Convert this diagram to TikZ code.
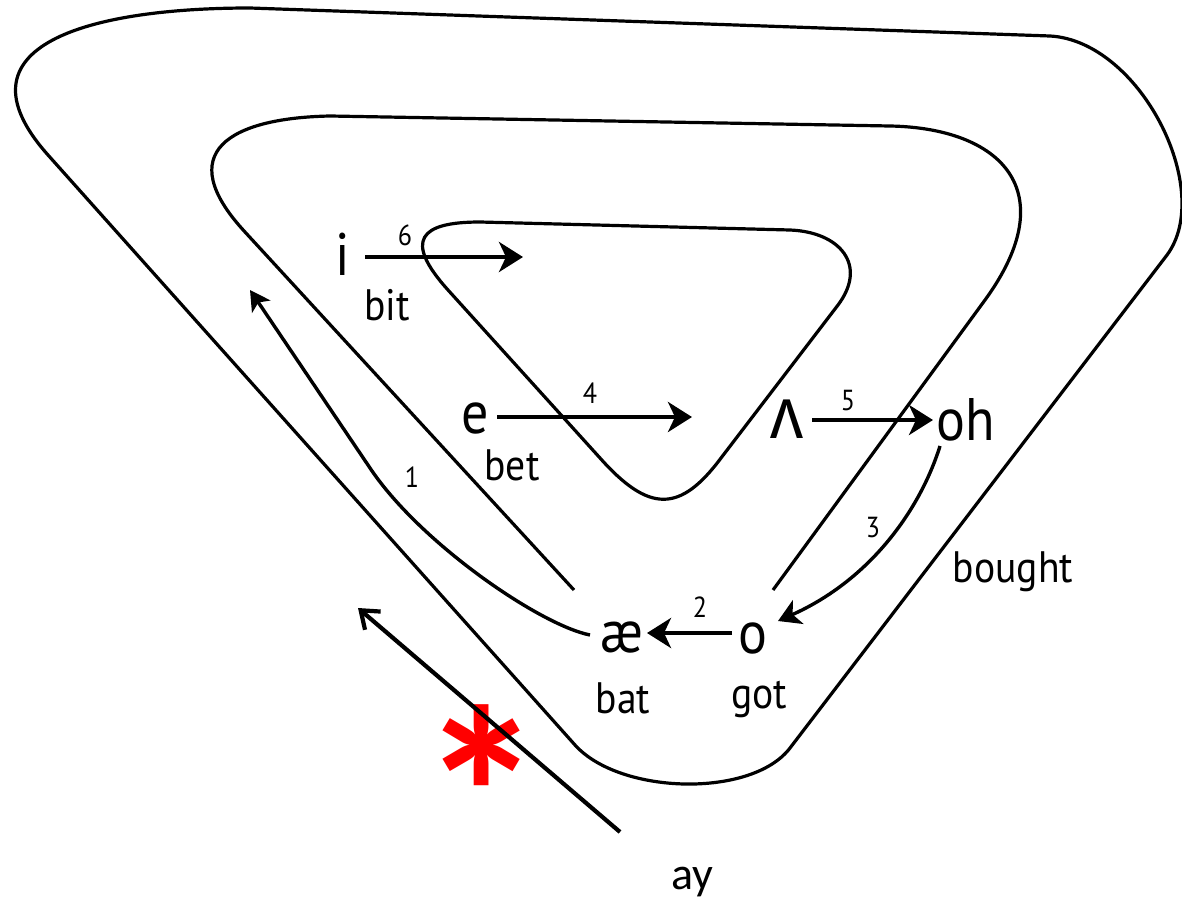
\documentclass[tikz,border=0pt]{standalone}
\usepackage{fontspec}
\setmainfont{PT Sans}[FakeStretch=0.9]
\newfontfamily\ipafont{Noto Sans}[FakeStretch=0.9]
\newfontfamily\calfont{Carlito}
\usetikzlibrary{arrows.meta}
\begin{document}
\begin{tikzpicture}[x=1pt,y=-1pt,
  loopline/.style={line width=3.2pt, line join=round},
  arrbig/.style={line width=4pt,-{Stealth[length=24pt,width=30pt,inset=7pt]}},
  arrcurve/.style={line width=3.4pt,-{Stealth[length=22pt,width=26pt,inset=6pt]}},
  arrone/.style={line width=3.4pt,-{Stealth[length=20pt,width=22pt,inset=5pt]}},
  arrway/.style={line width=4.2pt,-{Straight Barb[length=16pt,width=24pt]}},
  bigl/.style={font=\fontsize{60}{60}\selectfont, inner sep=0pt, anchor=base},
  word/.style={font=\fontsize{44}{44}\selectfont, inner sep=0pt, anchor=base},
  num/.style={font=\fontsize{29}{29}\selectfont, inner sep=0pt, anchor=base},
]
\path[use as bounding box] (0,0) rectangle (1182,899);
\clip (0,0) rectangle (1182,899);

% loops
\draw[loopline] (250,8) .. controls (90,8) and (-50,45) .. (48,155) -- (575,745)
  .. controls (620,795) and (752,798) .. (790,748) -- (1167,255)
  .. controls (1215,190) and (1140,41) .. (1050,36) -- cycle;
\draw[loopline] (574,590) -- (245,232) .. controls (171,152) and (230,118) .. (330,116)
  -- (890,126) .. controls (1000,128) and (1065,190) .. (985,300) -- (773,590);
\draw[loopline] (480,222) -- (790,230) .. controls (840,232) and (868,265) .. (838,305)
  -- (721,458) .. controls (680,513) and (649,513) .. (600,458)
  -- (448,290) .. controls (403,240) and (420,222) .. (480,222) -- cycle;

% labels
\node[bigl] (i) at (343,275) {i};
\node[word] (bit) at (387,320) {bit};
\node[bigl] (e) at (475,433) {e};
\node[word] (bet) at (512,480) {bet};
\node[bigl, font=\ipafont\fontsize{72}{72}\selectfont] (wedge) at (787,438) {ʌ};
\node[bigl] (oh) at (966,440) {oh};
\node[word] (bought) at (1013,582) {bought};
\node[bigl] (ae) at (622,652) {æ};
\node[word] (bat) at (623,713) {bat};
\node[bigl] (o) at (753,653) {o};
\node[word] (got) at (759,708) {got};
\node[num] (n6) at (405,245) {6};
\node[num] (n4) at (590,403) {4};
\node[num] (n5) at (848,410) {5};
\node[num] (n2) at (700,617) {2};
\node[num] (n3) at (873,537) {3};
\node[num] (n1) at (412,487) {1};
\node[font=\calfont\fontsize{46}{46}\selectfont, inner sep=0pt, anchor=base] (ay) at (692,889) {ay};
\node[text=red, font=\calfont\bfseries\fontsize{250}{250}\selectfont, inner sep=0pt, anchor=base] (ast) at (482,883) {*};

% arrow end points
\coordinate (a6s) at (365,257); \coordinate (a6e) at (523,257);
\coordinate (a4s) at (497,417); \coordinate (a4e) at (692,417);
\coordinate (a5s) at (812,420); \coordinate (a5e) at (933,420);
\coordinate (a2s) at (732,633); \coordinate (a2e) at (647,633);
\coordinate (a3s) at (940,446); \coordinate (a3e) at (778,621);
\coordinate (a1s) at (590,635); \coordinate (a1e) at (250,290);
\coordinate (ays) at (620,832); \coordinate (aye) at (358,608);

\draw[arrbig] (a6s) -- (a6e);
\draw[arrbig] (a4s) -- (a4e);
\draw[arrbig] (a5s) -- (a5e);
\draw[arrbig] (a2s) -- (a2e);
\draw[arrcurve] (a3s) .. controls (920,510) and (870,580) .. (a3e);
\draw[arrone] (a1s) .. controls (540,625) and (420,543) .. (370,468) -- (a1e);
\draw[arrway] (ays) -- (aye);
\end{tikzpicture}
\end{document}
